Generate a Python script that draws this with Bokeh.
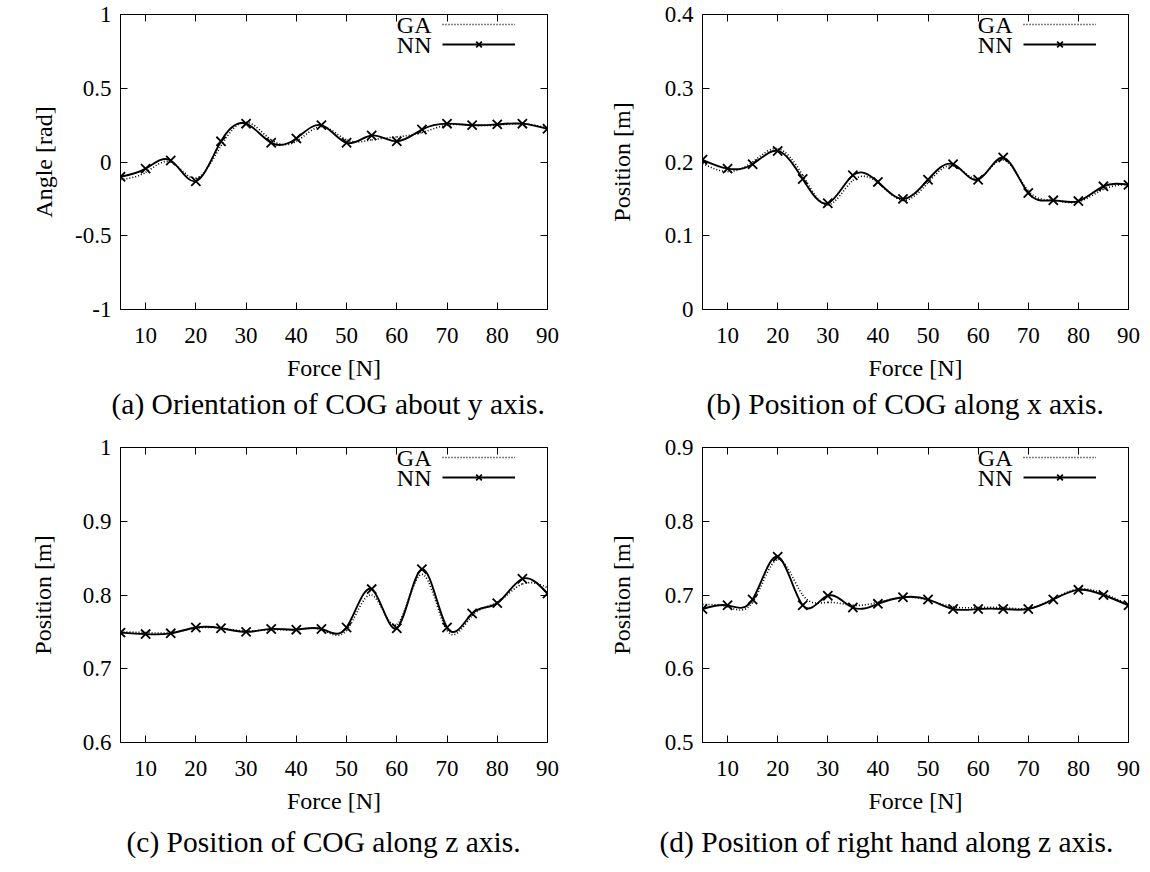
import numpy as np
from bokeh.plotting import figure
from bokeh.models import (Range1d, LinearAxis, Legend, LegendItem, Label, Title,
                          FixedTicker, ColumnDataSource)
from bokeh.layouts import column, row
from bokeh.embed import file_html
from bokeh.resources import INLINE

# ---------------- data ----------------
force = [5, 10, 15, 20, 25, 30, 35, 40, 45, 50, 55, 60, 65, 70, 75, 80, 85, 90]
x_ticks = [10, 20, 30, 40, 50, 60, 70, 80, 90]

a_nn = [-0.10, -0.045, 0.01, -0.13, 0.14, 0.26, 0.13, 0.16, 0.25, 0.13, 0.18, 0.14,
        0.22, 0.26, 0.25, 0.255, 0.26, 0.225]
a_ga = [-0.12, -0.07, 0.0, -0.11, 0.11, 0.27, 0.15, 0.14, 0.24, 0.15, 0.15, 0.17,
        0.20, 0.25, 0.25, 0.25, 0.26, 0.23]
a_yticks = [-1, -0.5, 0, 0.5, 1]
a_ylabels = ["-1", "-0.5", "0", "0.5", "1"]

b_nn = [0.203, 0.191, 0.197, 0.215, 0.177, 0.144, 0.182, 0.173, 0.150, 0.176, 0.197,
        0.176, 0.206, 0.158, 0.148, 0.147, 0.167, 0.169]
b_ga = [0.198, 0.187, 0.200, 0.218, 0.182, 0.142, 0.175, 0.172, 0.148, 0.172, 0.195,
        0.178, 0.203, 0.161, 0.148, 0.146, 0.163, 0.170]
b_yticks = [0, 0.1, 0.2, 0.3, 0.4]
b_ylabels = ["0", "0.1", "0.2", "0.3", "0.4"]

c_nn = [0.749, 0.747, 0.748, 0.756, 0.755, 0.750, 0.754, 0.753, 0.754, 0.756, 0.808,
        0.755, 0.835, 0.756, 0.775, 0.789, 0.822, 0.802]
c_ga = [0.750, 0.749, 0.749, 0.755, 0.755, 0.751, 0.753, 0.753, 0.753, 0.752, 0.800,
        0.760, 0.828, 0.752, 0.772, 0.790, 0.815, 0.810]
c_yticks = [0.6, 0.7, 0.8, 0.9, 1.0]
c_ylabels = ["0.6", "0.7", "0.8", "0.9", "1"]

d_nn = [0.681, 0.686, 0.694, 0.752, 0.686, 0.699, 0.683, 0.688, 0.697, 0.694, 0.681,
        0.681, 0.681, 0.681, 0.694, 0.707, 0.700, 0.686]
d_ga = [0.687, 0.684, 0.690, 0.748, 0.700, 0.690, 0.686, 0.690, 0.697, 0.693, 0.684,
        0.683, 0.683, 0.682, 0.695, 0.708, 0.702, 0.687]
d_yticks = [0.5, 0.6, 0.7, 0.8, 0.9]
d_ylabels = ["0.5", "0.6", "0.7", "0.8", "0.9"]

captions = ["(a) Orientation of COG about y axis.",
            "(b) Position of COG along x axis.",
            "(c) Position of COG along z axis.",
            "(d) Position of right hand along z axis."]
ylabels = ["Angle [rad]", "Position [m]", "Position [m]", "Position [m]"]
xlabel = "Force [N]"
series_names = ["GA", "NN"]

FONT = "Liberation Serif"
TICK_FS = "23px"
LABEL_FS = "24px"
CAP_FS = "29.5px"


def spline_source(x, y):
    """Natural cubic spline through the data, as Bezier segments (like gnuplot csplines)."""
    x = np.asarray(x, float)
    y = np.asarray(y, float)
    n = len(x)
    h = np.diff(x)
    A = np.zeros((n, n))
    r = np.zeros(n)
    A[0, 0] = 1.0
    A[-1, -1] = 1.0
    for i in range(1, n - 1):
        A[i, i - 1] = h[i - 1]
        A[i, i] = 2 * (h[i - 1] + h[i])
        A[i, i + 1] = h[i]
        r[i] = 6 * ((y[i + 1] - y[i]) / h[i] - (y[i] - y[i - 1]) / h[i - 1])
    M = np.linalg.solve(A, r)
    sl = (y[1:] - y[:-1]) / h - h * (2 * M[:-1] + M[1:]) / 6
    sr = (y[1:] - y[:-1]) / h + h * (M[:-1] + 2 * M[1:]) / 6
    return ColumnDataSource(dict(
        x0=x[:-1], y0=y[:-1], x1=x[1:], y1=y[1:],
        cx0=x[:-1] + h / 3, cy0=y[:-1] + h / 3 * sl,
        cx1=x[1:] - h / 3, cy1=y[1:] - h / 3 * sr))


def style_axis(ax, ticks, overrides=None, show_labels=True, standoff=10):
    ax.ticker = FixedTicker(ticks=ticks)
    ax.minor_tick_line_color = None
    ax.major_tick_in = 7
    ax.major_tick_out = 0
    ax.major_tick_line_color = "black"
    ax.axis_line_color = "black"
    if overrides:
        ax.major_label_overrides = overrides
    if show_labels:
        ax.major_label_text_font = FONT
        ax.major_label_text_font_size = TICK_FS
        ax.major_label_text_color = "black"
        ax.major_label_standoff = standoff
    else:
        ax.major_label_text_font_size = "1px"
        ax.major_label_text_color = None
        ax.major_label_standoff = 0
        ax.axis_line_color = None


def make_panel(nn, ga, yticks, ylabs, ylabel, caption, width, height,
               bl, br, bt, bb, ylab_standoff, cap_standoff, cap_offset):
    p = figure(width=width, height=height, output_backend="svg", toolbar_location=None,
               x_range=Range1d(5, 90), y_range=Range1d(yticks[0], yticks[-1]),
               min_border_left=bl, min_border_right=br,
               min_border_top=bt, min_border_bottom=bb)
    p.grid.visible = False
    p.outline_line_color = "black"
    p.outline_line_width = 1
    p.background_fill_color = "white"
    p.border_fill_color = "white"

    yover = {t: s for t, s in zip(yticks, ylabs)}
    xover = {t: str(t) for t in x_ticks}
    style_axis(p.xaxis[0], x_ticks, xover, standoff=18)
    style_axis(p.yaxis[0], yticks, yover, standoff=9)
    p.xaxis.axis_label = xlabel
    p.yaxis.axis_label = ylabel
    for ax in (p.xaxis[0], p.yaxis[0]):
        ax.axis_label_text_font = FONT
        ax.axis_label_text_font_size = LABEL_FS
        ax.axis_label_text_font_style = "normal"
        ax.axis_label_text_color = "black"
    p.xaxis.axis_label_standoff = 9
    p.yaxis.axis_label_standoff = ylab_standoff

    top = LinearAxis()
    style_axis(top, x_ticks, show_labels=False)
    p.add_layout(top, "above")
    right = LinearAxis()
    style_axis(right, yticks, show_labels=False)
    p.add_layout(right, "right")

    ga_src = spline_source(force, ga)
    nn_src = spline_source(force, nn)
    r_ga = p.bezier(x0="x0", y0="y0", x1="x1", y1="y1", cx0="cx0", cy0="cy0",
                    cx1="cx1", cy1="cy1", source=ga_src, line_color="black",
                    line_width=1.6, line_dash="1 2")
    r_nn = p.bezier(x0="x0", y0="y0", x1="x1", y1="y1", cx0="cx0", cy0="cy0",
                    cx1="cx1", cy1="cy1", source=nn_src, line_color="black",
                    line_width=1.9)
    r_pts = p.scatter(force, nn, marker="x", size=13, line_color="black", line_width=1.8)

    fw = width - bl - br
    fh = height - bt - bb
    sample = 73
    lx = fw - 32 - sample
    legend = Legend(items=[LegendItem(label="GA", renderers=[r_ga]),
                           LegendItem(label="NN", renderers=[r_nn, r_pts])],
                    location=(lx, fh - 40), glyph_width=sample, glyph_height=20,
                    label_height=20, label_width=1, label_standoff=0, padding=0, margin=0,
                    spacing=0, border_line_color=None, background_fill_alpha=0,
                    label_text_font_size="1px", label_text_color=None)
    p.add_layout(legend)
    for i, name in enumerate(series_names):
        p.add_layout(Label(x=lx - 11, y=fh - 10 - 20 * i, x_units="screen",
                           y_units="screen", text=name, text_align="right",
                           text_baseline="middle", text_font=FONT,
                           text_font_size=LABEL_FS, text_color="black"))

    p.add_layout(Title(text=caption, align="left", text_font=FONT,
                       text_font_size=CAP_FS, text_font_style="normal",
                       text_color="black", standoff=cap_standoff, offset=cap_offset),
                 "below")
    return p


W1, W2 = 575, 575
H1, H2 = 430, 442
pa = make_panel(a_nn, a_ga, a_yticks, a_ylabels, ylabels[0], captions[0], W1, H1,
                120, 28, 14, 121, 15, 4, -9)
pb = make_panel(b_nn, b_ga, b_yticks, b_ylabels, ylabels[1], captions[1], W2, H1,
                127, 22, 14, 121, 27, 4, 4)
pc = make_panel(c_nn, c_ga, c_yticks, c_ylabels, ylabels[2], captions[2], W1, H2,
                120, 28, 17, 130, 24, 15, 6)
pd = make_panel(d_nn, d_ga, d_yticks, d_ylabels, ylabels[3], captions[3], W2, H2,
                127, 22, 17, 130, 27, 15, -43)

layout = column(row(pa, pb, spacing=0), row(pc, pd, spacing=0), spacing=0)
open("out.html", "w").write(file_html(layout, INLINE))
